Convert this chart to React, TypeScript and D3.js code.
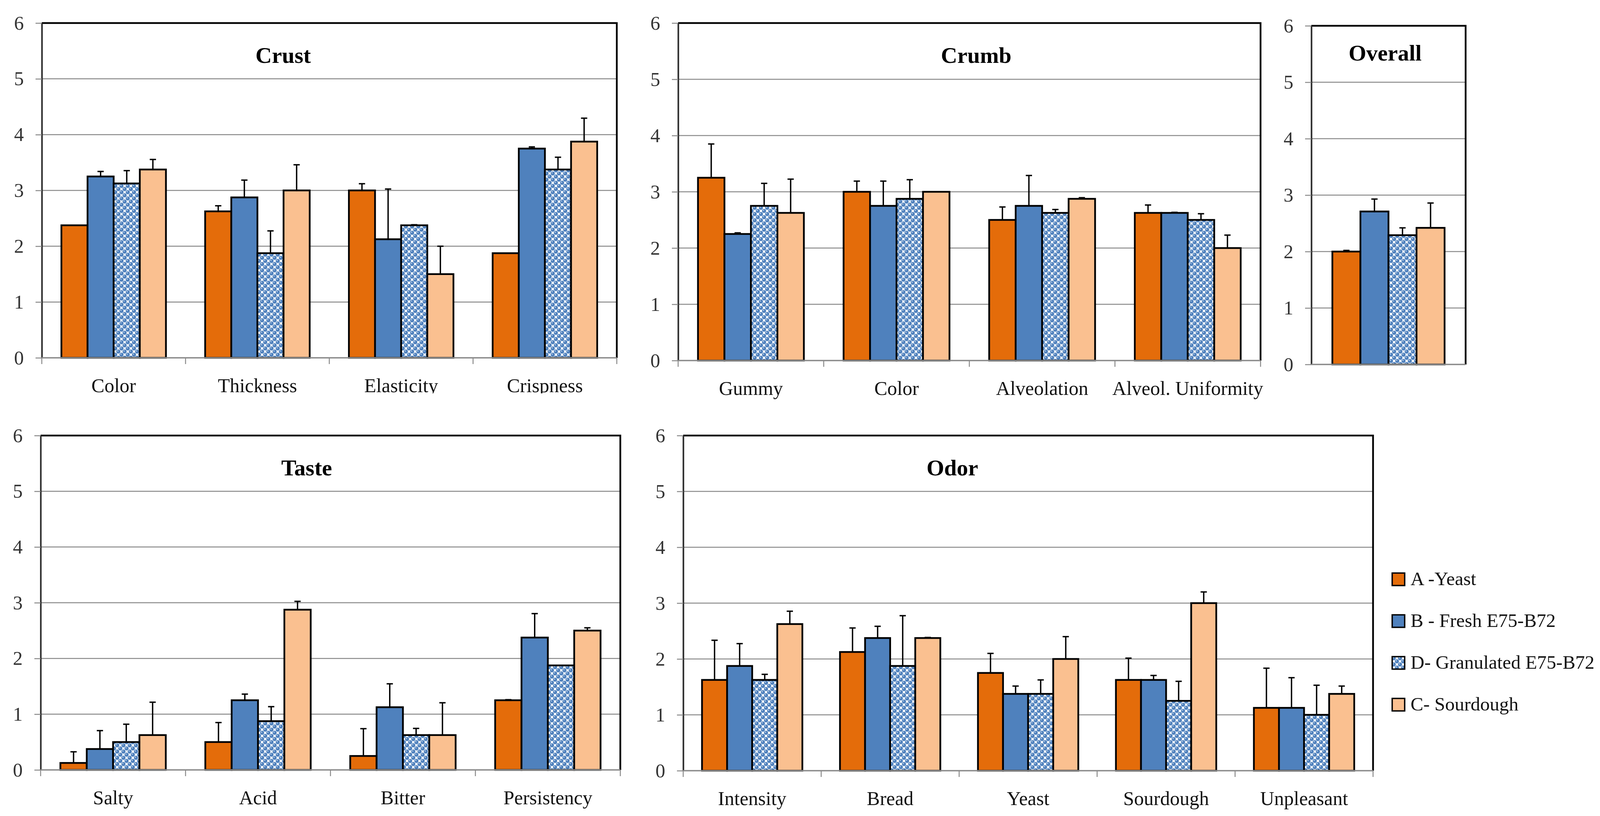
import * as d3 from "d3";
import { useEffect, useRef } from "react";

// series order as drawn in every group
const seriesNames = ["A -Yeast", "B - Fresh E75-B72", "D- Granulated E75-B72", "C- Sourdough"];
const seriesFills = ["#E46C0A", "#4F81BD", "url(#dots)", "#FAC090"];

// means [category][series], errors = upper error bar length
const crustCats = ["Color", "Thickness", "Elasticity", "Crispness"];
const crustMeans = [
    [2.375, 3.25, 3.125, 3.375],
    [2.625, 2.875, 1.875, 3.0],
    [3.0, 2.125, 2.375, 1.5],
    [1.875, 3.75, 3.375, 3.875],
];
const crustErrs = [
    [0, 0.09, 0.23, 0.18],
    [0.1, 0.31, 0.4, 0.46],
    [0.12, 0.9, 0.01, 0.5],
    [0, 0.03, 0.22, 0.42],
];

const crumbCats = ["Gummy", "Color", "Alveolation", "Alveol. Uniformity"];
const crumbMeans = [
    [3.25, 2.25, 2.75, 2.625],
    [3.0, 2.75, 2.875, 3.0],
    [2.5, 2.75, 2.625, 2.875],
    [2.625, 2.625, 2.5, 2.0],
];
const crumbErrs = [
    [0.6, 0.02, 0.4, 0.6],
    [0.19, 0.44, 0.34, 0],
    [0.23, 0.54, 0.06, 0.02],
    [0.14, 0.01, 0.11, 0.23],
];

const overallCats = [""];
const overallMeans = [[2.0, 2.71, 2.29, 2.42]];
const overallErrs = [[0.02, 0.22, 0.13, 0.44]];

const tasteCats = ["Salty", "Acid", "Bitter", "Persistency"];
const tasteMeans = [
    [0.125, 0.375, 0.5, 0.625],
    [0.5, 1.25, 0.875, 2.875],
    [0.25, 1.125, 0.625, 0.625],
    [1.25, 2.375, 1.875, 2.5],
];
const tasteErrs = [
    [0.2, 0.33, 0.32, 0.59],
    [0.35, 0.11, 0.26, 0.15],
    [0.49, 0.42, 0.12, 0.58],
    [0.01, 0.43, 0, 0.05],
];

const odorCats = ["Intensity", "Bread", "Yeast", "Sourdough", "Unpleasant"];
const odorMeans = [
    [1.625, 1.875, 1.625, 2.625],
    [2.125, 2.375, 1.875, 2.375],
    [1.75, 1.375, 1.375, 2.0],
    [1.625, 1.625, 1.25, 3.0],
    [1.125, 1.125, 1.0, 1.375],
];
const odorErrs = [
    [0.71, 0.4, 0.1, 0.23],
    [0.43, 0.21, 0.9, 0.01],
    [0.35, 0.14, 0.25, 0.4],
    [0.39, 0.08, 0.35, 0.2],
    [0.71, 0.54, 0.53, 0.14],
];

const yTicks = [0, 1, 2, 3, 4, 5, 6];

const FONT = "'Liberation Serif', 'Times New Roman', serif";

const panels = [
    { title: "Crust", cats: crustCats, means: crustMeans, errs: crustErrs, left: 107, right: 1579, top: 59, bottom: 916, titleX: 725, titleY: 161, clipLabels: true },
    { title: "Crumb", cats: crumbCats, means: crumbMeans, errs: crumbErrs, left: 1736, right: 3227, top: 59, bottom: 923, titleX: 2499, titleY: 161 },
    { title: "Overall", cats: overallCats, means: overallMeans, errs: overallErrs, left: 3357, right: 3752, top: 66, bottom: 933, titleX: 3546, titleY: 155, noXAxis: true },
    { title: "Taste", cats: tasteCats, means: tasteMeans, errs: tasteErrs, left: 104, right: 1588, top: 1115, bottom: 1971, titleX: 785, titleY: 1217 },
    { title: "Odor", cats: odorCats, means: odorMeans, errs: odorErrs, left: 1749, right: 3515, top: 1115, bottom: 1973, titleX: 2438, titleY: 1217 },
];

function drawPanel(svg, p, idx) {
    const g = svg.append("g");
    const y = d3.scaleLinear([0, 6], [p.bottom, p.top]);
    const x0 = d3.scaleBand(p.cats, [p.left, p.right]).padding(0);
    const x1 = d3.scaleBand(d3.range(seriesNames.length), [0, x0.bandwidth()]).paddingInner(0).paddingOuter(0.75);

    // gridlines
    g.append("g").selectAll("line").data(yTicks.filter(t => t > 0 && t < 6)).enter().append("line")
        .attr("x1", p.left).attr("x2", p.right)
        .attr("y1", d => y(d)).attr("y2", d => y(d))
        .attr("stroke", "#8a8a8a").attr("stroke-width", 2.5);

    // bars
    const groups = g.append("g").selectAll("g").data(p.cats).enter().append("g")
        .attr("transform", d => `translate(${x0(d)},0)`);
    groups.selectAll("rect").data((d, i) => p.means[i].map((v, j) => ({ v, j, e: p.errs[i][j] }))).enter().append("rect")
        .attr("x", d => x1(d.j))
        .attr("y", d => y(d.v))
        .attr("width", x1.bandwidth())
        .attr("height", d => y(0) - y(d.v))
        .attr("fill", d => seriesFills[d.j])
        .attr("stroke", "#000").attr("stroke-width", 4.5);

    // error bars (upper only)
    const eb = groups.selectAll("g.err").data((d, i) => p.means[i].map((v, j) => ({ v, j, e: p.errs[i][j] })).filter(d => d.e > 0))
        .enter().append("g").attr("class", "err");
    eb.append("line")
        .attr("x1", d => x1(d.j) + x1.bandwidth() / 2).attr("x2", d => x1(d.j) + x1.bandwidth() / 2)
        .attr("y1", d => y(d.v)).attr("y2", d => y(d.v + d.e))
        .attr("stroke", "#000").attr("stroke-width", 3.5);
    eb.append("line")
        .attr("x1", d => x1(d.j) + x1.bandwidth() / 2 - 8).attr("x2", d => x1(d.j) + x1.bandwidth() / 2 + 8)
        .attr("y1", d => y(d.v + d.e)).attr("y2", d => y(d.v + d.e))
        .attr("stroke", "#000").attr("stroke-width", 3.5);

    // frame: top, right black
    g.append("path")
        .attr("d", `M${p.left},${p.top}H${p.right}V${p.bottom}`)
        .attr("fill", "none").attr("stroke", "#000").attr("stroke-width", 4.5);

    // y axis
    const yAxis = d3.axisLeft(y).tickValues(yTicks).tickSize(16).tickSizeOuter(0).tickPadding(30).tickFormat(d3.format("d"));
    const ya = g.append("g").attr("transform", `translate(${p.left},0)`).call(yAxis);
    ya.select(".domain").attr("stroke", "#2a2a2a").attr("stroke-width", 4);
    ya.selectAll(".tick line").attr("stroke", "#8a8a8a").attr("stroke-width", 2.5);
    ya.selectAll(".tick text").attr("font-family", FONT).attr("font-size", 50).attr("fill", "#333");

    // x axis
    g.append("line")
        .attr("x1", p.left).attr("x2", p.right).attr("y1", y(0)).attr("y2", y(0))
        .attr("stroke", "#8a8a8a").attr("stroke-width", 3.5);
    if (!p.noXAxis) {
        const bounds = p.cats.map(c => x0(c)).concat([x0(p.cats[p.cats.length - 1]) + x0.bandwidth()]);
        g.append("g").selectAll("line").data(bounds).enter().append("line")
            .attr("x1", d => d).attr("x2", d => d)
            .attr("y1", y(0)).attr("y2", y(0) + 16)
            .attr("stroke", "#8a8a8a").attr("stroke-width", 2.5);

        const xAxis = d3.axisBottom(x0).tickSize(0).tickSizeOuter(0);
        const xa = g.append("g").attr("transform", `translate(0,${y(0)})`).call(xAxis);
        xa.select(".domain").remove();
        xa.selectAll(".tick text")
            .attr("y", 88).attr("dy", null)
            .attr("font-family", FONT).attr("font-size", 50).attr("fill", "#111");
        if (p.clipLabels) {
            // labels of this panel are cut off just under the baseline
            const id = "clip" + idx;
            svg.select("defs").append("clipPath").attr("id", id)
                .append("rect").attr("x", p.left - 100).attr("y", 0).attr("width", p.right - p.left + 200).attr("height", 91);
            xa.attr("clip-path", `url(#${id})`);
        }
    }

    // title
    g.append("text")
        .attr("x", p.titleX).attr("y", p.titleY)
        .attr("text-anchor", "middle")
        .attr("font-family", FONT).attr("font-weight", "bold").attr("font-size", 58)
        .attr("fill", "#000")
        .text(p.title);
}

function App() {
    const svgRef = useRef(null);

    useEffect(() => {
        const svg = d3.select(svgRef.current);
        svg.selectAll("*").remove();
        svg.attr("width", 4131).attr("height", 2089);

        svg.append("rect").attr("width", 4131).attr("height", 2089).attr("fill", "#fff");

        const defs = svg.append("defs");
        const pat = defs.append("pattern").attr("id", "dots")
            .attr("patternUnits", "userSpaceOnUse").attr("width", 16).attr("height", 16);
        pat.append("rect").attr("width", 16).attr("height", 16).attr("fill", "#fff");
        [[4, 4], [12, 12], [12, -4], [-4, 12], [20, 4], [4, 20]].forEach(([cx, cy]) => {
            pat.append("circle").attr("cx", cx).attr("cy", cy).attr("r", 5.3).attr("fill", "#4F81BD");
            pat.append("circle").attr("cx", cx - 1.5).attr("cy", cy - 1.5).attr("r", 1.3).attr("fill", "#e4eef9");
        });

        panels.forEach((p, i) => drawPanel(svg, p, i));

        // legend
        const legend = svg.append("g").attr("transform", "translate(3564,1467)");
        const items = legend.selectAll("g").data(seriesNames).enter().append("g")
            .attr("transform", (d, i) => `translate(0,${i * 107})`);
        items.append("rect")
            .attr("width", 32).attr("height", 32)
            .attr("fill", (d, i) => seriesFills[i])
            .attr("stroke", "#000").attr("stroke-width", 3.5);
        items.append("text")
            .attr("x", 47).attr("y", 31)
            .attr("font-family", FONT).attr("font-size", 49).attr("fill", "#111")
            .text(d => d);
    }, []);

    return (
        <svg ref={svgRef} style={{ position: "absolute", left: 0, top: 0, display: "block" }} />
    );
}

export default App;
